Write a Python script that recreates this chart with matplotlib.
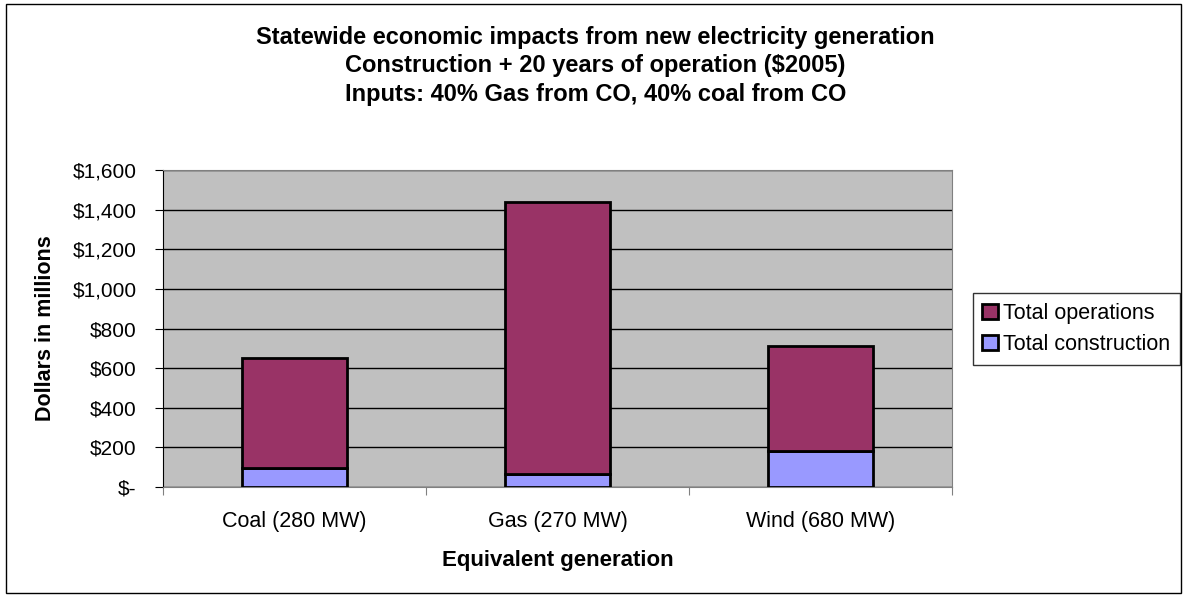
import matplotlib.pyplot as plt
from matplotlib.patches import Rectangle
from matplotlib.ticker import FuncFormatter

plt.rcParams['font.family'] = ['Liberation Sans', 'DejaVu Sans']

categories = ["Coal (280 MW)", "Gas (270 MW)", "Wind (680 MW)"]
construction = [96, 66, 182]
operations = [555, 1372, 530]

fig = plt.figure(figsize=(11.87, 5.98), dpi=100)
ax = fig.add_axes([0.1373, 0.1856, 0.6647, 0.5301])
ax.set_facecolor("#c0c0c0")

x = range(len(categories))
ax.bar(x, construction, width=0.4, color="#9999ff", edgecolor="black", linewidth=2,
       label="Total construction", zorder=3)
ax.bar(x, operations, width=0.4, bottom=construction, color="#993366", edgecolor="black",
       linewidth=2, label="Total operations", zorder=3)

ax.set_xlim(-0.5, 2.5)
ax.set_ylim(0, 1600)
ax.set_yticks(range(0, 1601, 200))
ax.yaxis.set_major_formatter(FuncFormatter(lambda v, p: "$-" if v == 0 else "${:,.0f}".format(v)))
ax.yaxis.grid(True, color="black", linewidth=1)
ax.set_axisbelow(True)

ax.set_xticks([-0.5, 0.5, 1.5, 2.5])
ax.set_xticklabels([])
ax.set_xticks(list(x), minor=True)
ax.set_xticklabels(categories, minor=True)
ax.tick_params(axis="x", which="minor", length=0, pad=17, labelsize=15.5)
ax.tick_params(axis="x", which="major", length=6, color="#808080")
ax.tick_params(axis="y", length=6, labelsize=15, pad=13)

for s in ["top", "right"]:
    ax.spines[s].set_color("#808080")
ax.spines["left"].set_color("black")
ax.spines["bottom"].set_color("#808080")

ax.set_ylabel("Dollars in millions", fontsize=15.5, fontweight="bold", labelpad=12)
ax.set_xlabel("Equivalent generation", fontsize=16, fontweight="bold", labelpad=13)

fig.text(0.5015, 0.957, "Statewide economic impacts from new electricity generation\n"
         "Construction + 20 years of operation ($2005)\n"
         "Inputs: 40% Gas from CO, 40% coal from CO",
         ha="center", va="top", fontsize=17, fontweight="bold", linespacing=1.32)

handles, labels = ax.get_legend_handles_labels()
leg = fig.legend(handles[::-1], labels[::-1], loc="upper left", bbox_to_anchor=(0.8195, 0.51),
                 fontsize=15.5, frameon=True, fancybox=False, edgecolor="black",
                 handlelength=0.7, handleheight=0.7, handletextpad=0.25, borderpad=0.45,
                 labelspacing=0.5, borderaxespad=0)
leg.get_frame().set_linewidth(1)

fig.add_artist(Rectangle((0.005, 0.008), 0.99, 0.985, transform=fig.transFigure,
                         fill=False, edgecolor="black", linewidth=1))

fig.savefig("out.png", dpi=100)
